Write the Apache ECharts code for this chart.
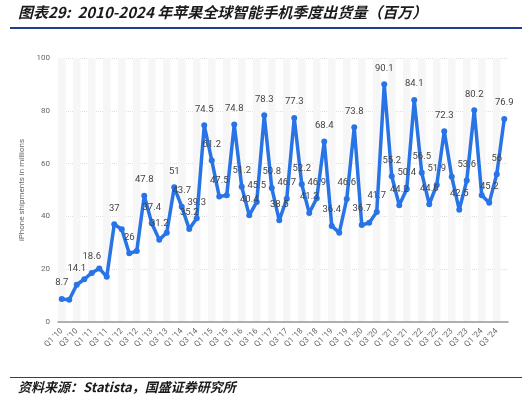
<!DOCTYPE html>
<html>
<head>
<meta charset="utf-8">
<script src="https://cdn.jsdelivr.net/npm/echarts@6/dist/echarts.min.js"></script>
<style>
  body { margin: 0; background: #fff; }
  #chart { width: 532px; height: 404px; }
</style>
</head>
<body>
<div id="chart"></div>
<script>
const years = ['10','11','12','13','14','15','16','17','18','19','20','21','22','23','24'];
const quarters = [];
years.forEach(function (y) { for (let q = 1; q <= 4; q++) quarters.push('Q' + q + " '" + y); });

const shipments = [8.7, 8.4, 14.1, 16.2, 18.6, 20.3, 17.1, 37, 35.1, 26, 26.9, 47.8,
  37.4, 31.2, 33.8, 51, 43.7, 35.2, 39.3, 74.5, 61.2, 47.5, 48, 74.8,
  51.2, 40.4, 45.5, 78.3, 50.8, 38.5, 46.7, 77.3, 52.2, 41.3, 46.9, 68.4,
  36.4, 33.8, 46.6, 73.8, 36.7, 37.6, 41.7, 90.1, 55.2, 44.2, 50.4, 84.1,
  56.5, 44.6, 51.9, 72.3, 55, 42.5, 53.6, 80.2, 48, 45.2, 56, 76.9];

// points without a value label in the source picture
const hidden = [1, 3, 5, 6, 8, 10, 14, 22, 37, 41, 52, 56];

const chart = echarts.init(document.getElementById('chart'));
chart.setOption({
  graphic: [
    { type: 'text', left: 18, top: 5, style: { text: '图表29:  2010-2024 年苹果全球智能手机季度出货量（百万）', font: 'italic bold 15px "Noto Sans CJK SC"', fill: '#1a1a1a' } },
    { type: 'rect', shape: { x: 10, y: 27, width: 512, height: 2 }, style: { fill: '#1f3f8f' } },
    { type: 'rect', shape: { x: 10, y: 377, width: 512, height: 1 }, style: { fill: '#1f3f8f' } },
    { type: 'text', left: 18, top: 381, style: { text: '资料来源：Statista，国盛证券研究所', font: 'italic bold 13px "Noto Sans CJK SC"', fill: '#1a1a1a' } }
  ],
  grid: { left: 58, right: 24, top: 58, bottom: 82 },
  xAxis: {
    type: 'category',
    data: quarters,
    axisTick: { show: false },
    axisLine: { lineStyle: { color: '#999', width: 1.5 } },
    axisLabel: { interval: 1, rotate: 45, fontSize: 8, color: '#666', fontFamily: 'Roboto' },
    splitArea: { show: true, interval: 0, areaStyle: { color: ['rgba(246,246,246,1)', 'rgba(255,255,255,0)'] } }
  },
  yAxis: {
    type: 'value', min: 0, max: 100, interval: 20,
    name: 'iPhone shipments in millions', nameLocation: 'middle', nameGap: 26,
    nameTextStyle: { fontSize: 8, color: '#666', fontFamily: 'Roboto' },
    axisLabel: { fontSize: 8, color: '#666', fontFamily: 'Roboto' },
    splitLine: { lineStyle: { color: '#ddd', type: 'dotted' } }
  },
  series: [{
    type: 'line',
    showAllSymbol: true,
    data: shipments.map(function (v, i) {
      return { value: v, label: { show: hidden.indexOf(i) < 0 } };
    }),
    symbol: 'circle', symbolSize: 6,
    lineStyle: { color: '#2874e6', width: 3.5 },
    itemStyle: { color: '#2874e6' },
    label: { position: 'top', distance: 8, fontSize: 9.5, color: '#444', fontFamily: 'Roboto' }
  }]
});
</script>
</body>
</html>
